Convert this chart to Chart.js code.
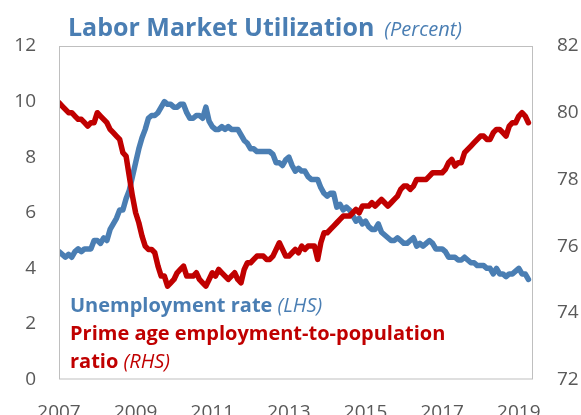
<!DOCTYPE html>
<html lang="en">
<head>
    <meta charset="UTF-8">
    <title>Labor Market Utilization</title>
    <script src="https://cdn.jsdelivr.net/npm/chart.js"></script>
    <style>
        body { margin: 0; background: #fff; }
        #wrap { width: 581px; height: 415px; position: relative; }
    </style>
</head>
<body>
    <div id="wrap"><canvas id="laborChart"></canvas></div>

    <script>
        // monthly data, Jan 2007 .. Apr 2019
        const startYear = 2007;
        const tickYears = [2007, 2009, 2011, 2013, 2015, 2017, 2019];
        const leftTicks = [0, 2, 4, 6, 8, 10, 12];
        const rightTicks = [72, 74, 76, 78, 80, 82];

        const unemploymentRate = [
            4.6, 4.5, 4.4, 4.5, 4.4, 4.6, 4.7, 4.6, 4.7, 4.7, 4.7, 5.0,
            5.0, 4.9, 5.1, 5.0, 5.4, 5.6, 5.8, 6.1, 6.1, 6.5, 6.8, 7.3,
            7.8, 8.3, 8.7, 9.0, 9.4, 9.5, 9.5, 9.6, 9.8, 10.0, 9.9, 9.9,
            9.8, 9.8, 9.9, 9.9, 9.6, 9.4, 9.4, 9.5, 9.5, 9.4, 9.8, 9.3,
            9.1, 9.0, 9.0, 9.1, 9.0, 9.1, 9.0, 9.0, 9.0, 8.8, 8.6, 8.5,
            8.3, 8.3, 8.2, 8.2, 8.2, 8.2, 8.2, 8.1, 7.8, 7.8, 7.7, 7.9,
            8.0, 7.7, 7.5, 7.6, 7.5, 7.5, 7.3, 7.2, 7.2, 7.2, 6.9, 6.7,
            6.6, 6.7, 6.7, 6.2, 6.3, 6.1, 6.2, 6.1, 5.9, 5.7, 5.8, 5.6,
            5.7, 5.5, 5.4, 5.4, 5.6, 5.3, 5.2, 5.1, 5.0, 5.0, 5.1, 5.0,
            4.9, 4.9, 5.0, 5.1, 4.8, 4.9, 4.8, 4.9, 5.0, 4.9, 4.7, 4.7,
            4.7, 4.6, 4.4, 4.4, 4.4, 4.3, 4.3, 4.4, 4.3, 4.2, 4.2, 4.1,
            4.1, 4.1, 4.0, 4.0, 3.8, 4.0, 3.8, 3.8, 3.7, 3.8, 3.8, 3.9,
            4.0, 3.8, 3.8, 3.6
        ];

        const primeAgeEpop = [
            80.3, 80.2, 80.1, 80.0, 80.0, 79.9, 79.8, 79.8, 79.7, 79.6, 79.7, 79.7,
            80.0, 79.9, 79.8, 79.7, 79.5, 79.4, 79.3, 79.2, 78.8, 78.7, 78.1, 77.5,
            77.0, 76.7, 76.3, 76.0, 75.9, 75.9, 75.8, 75.4, 75.1, 75.1, 74.8, 74.9,
            75.0, 75.2, 75.3, 75.4, 75.1, 75.1, 75.1, 75.2, 75.0, 74.9, 74.8, 75.0,
            75.2, 75.1, 75.3, 75.2, 75.1, 75.0, 75.1, 75.2, 75.0, 74.9, 75.3, 75.5,
            75.5, 75.6, 75.7, 75.7, 75.7, 75.6, 75.6, 75.7, 75.9, 76.1, 75.9, 75.7,
            75.7, 75.8, 75.9, 75.8, 76.0, 75.9, 76.0, 76.0, 76.0, 75.6, 76.1, 76.4,
            76.4, 76.5, 76.6, 76.7, 76.8, 76.9, 76.9, 76.9, 77.0, 77.1, 77.0, 77.2,
            77.2, 77.2, 77.3, 77.2, 77.3, 77.4, 77.3, 77.2, 77.3, 77.4, 77.5, 77.7,
            77.8, 77.8, 77.7, 77.8, 78.0, 78.0, 78.0, 78.0, 78.1, 78.2, 78.2, 78.2,
            78.2, 78.3, 78.5, 78.6, 78.4, 78.5, 78.5, 78.8, 78.9, 79.0, 79.1, 79.2,
            79.3, 79.3, 79.2, 79.2, 79.4, 79.5, 79.5, 79.4, 79.3, 79.6, 79.7, 79.7,
            79.9, 80.0, 79.9, 79.7
        ];

        const blue = '#4a7eb3';
        const red = '#c00000';
        const tickFont = { family: 'Open Sans', size: 19 };

        function toPoints(values) {
            return values.map((v, i) => ({ x: startYear + i / 12, y: v }));
        }

        // title, legend text and plot frame
        const decorations = {
            id: 'decorations',
            afterDraw(chart) {
                const c = chart.ctx;
                const a = chart.chartArea;
                c.save();
                c.strokeStyle = '#bfbfbf';
                c.lineWidth = 1;
                c.strokeRect(a.left + 0.5, a.top + 0.5, a.right - a.left - 1, a.bottom - a.top - 1);

                c.textBaseline = 'alphabetic';
                c.fillStyle = blue;
                c.font = 'bold 25px "Open Sans"';
                c.fillText('Labor Market Utilization', 68, 36);
                let w = c.measureText('Labor Market Utilization').width;
                c.font = 'italic 20px "Open Sans"';
                c.fillText('(Percent)', 68 + w + 10, 36);

                const lx = a.left + 11;
                c.font = 'bold 20px "Open Sans"';
                c.fillText('Unemployment rate ', lx, 312);
                w = c.measureText('Unemployment rate ').width;
                c.font = 'italic 20px "Open Sans"';
                c.fillText('(LHS)', lx + w, 312);

                c.fillStyle = red;
                c.font = 'bold 20px "Open Sans"';
                c.fillText('Prime age employment-to-population', lx, 340);
                c.fillText('ratio ', lx, 368);
                w = c.measureText('ratio ').width;
                c.font = 'italic 20px "Open Sans"';
                c.fillText('(RHS)', lx + w, 368);
                c.restore();
            }
        };

        const ctx = document.getElementById('laborChart').getContext('2d');
        const laborChart = new Chart(ctx, {
            type: 'line',
            data: {
                datasets: [{
                    label: 'Prime age employment-to-population ratio (RHS)',
                    data: toPoints(primeAgeEpop),
                    yAxisID: 'yRight',
                    borderColor: red,
                    borderWidth: 5.5,
                    order: 1
                }, {
                    label: 'Unemployment rate (LHS)',
                    data: toPoints(unemploymentRate),
                    yAxisID: 'yLeft',
                    borderColor: blue,
                    borderWidth: 5.5,
                    order: 2
                }]
            },
            options: {
                responsive: true,
                maintainAspectRatio: false,
                animation: false,
                layout: { padding: { top: 46, left: 0, right: 0, bottom: 0 } },
                elements: {
                    point: { radius: 0 },
                    line: { tension: 0, borderJoinStyle: 'round', borderCapStyle: 'round' }
                },
                plugins: {
                    legend: { display: false },
                    title: { display: false },
                    tooltip: { enabled: false }
                },
                scales: {
                    x: {
                        type: 'linear',
                        min: 2007,
                        max: 2019.37,
                        grid: { display: false, drawTicks: false },
                        border: { display: false },
                        afterBuildTicks: axis => { axis.ticks = tickYears.map(v => ({ value: v })); },
                        afterFit: axis => { axis.height = 35.5; },
                        ticks: {
                            padding: 22,
                            maxRotation: 0,
                            autoSkip: false,
                            color: '#595959',
                            font: tickFont,
                            callback: v => String(v)
                        }
                    },
                    yLeft: {
                        position: 'left',
                        min: 0,
                        max: 12,
                        grid: { display: false, drawTicks: false },
                        border: { display: false },
                        afterBuildTicks: axis => { axis.ticks = leftTicks.map(v => ({ value: v })); },
                        afterFit: axis => { axis.width = 59; },
                        ticks: { padding: 23, color: '#595959', font: tickFont }
                    },
                    yRight: {
                        position: 'right',
                        min: 72,
                        max: 82,
                        grid: { display: false, drawTicks: false },
                        border: { display: false },
                        afterBuildTicks: axis => { axis.ticks = rightTicks.map(v => ({ value: v })); },
                        afterFit: axis => { axis.width = 48; },
                        ticks: { padding: 24, color: '#595959', font: tickFont }
                    }
                }
            },
            plugins: [decorations]
        });
    </script>
</body>
</html>
